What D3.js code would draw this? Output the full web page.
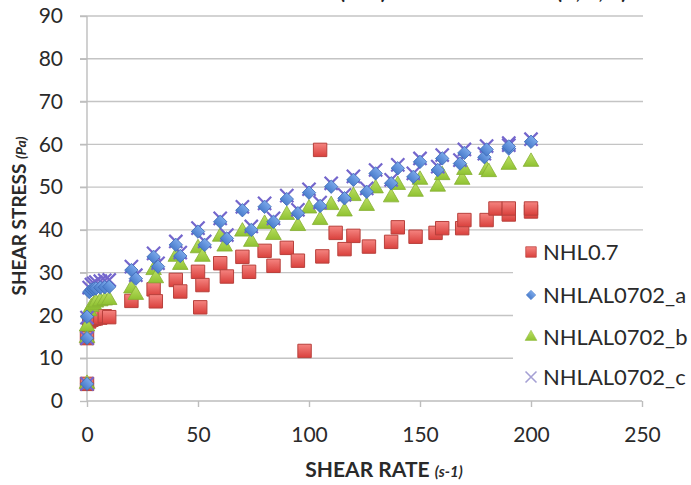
<!DOCTYPE html>
<html><head><meta charset="utf-8">
<script src="https://cdn.jsdelivr.net/npm/d3@7/dist/d3.min.js"></script>
<style>html,body{margin:0;padding:0;background:#fff;}svg{display:block;font-family:Lato,"Open Sans",sans-serif;}</style>
</head><body>
<svg id="c" width="691" height="485"></svg>
<script>
const seriesNames = ["NHL0.7", "NHLAL0702_a", "NHLAL0702_b", "NHLAL0702_c"];
const xTicks = [0, 50, 100, 150, 200, 250];
const yTicks = [0, 10, 20, 30, 40, 50, 60, 70, 80, 90];

const nhl07 = [[0,4],[0,14.7],[1,18.6],[2,19],[3,19.2],[4,19.3],[6,19.5],[8,19.8],[10,19.6],[20,23.4],[30,26.1],[31,23.3],[40,28.3],[42,25.6],[50,30.2],[52,27.1],[51,21.9],[60,32.2],[63,29.1],[70,33.7],[73,30.2],[80,35.1],[84,31.6],[90,35.8],[95,32.8],[98,11.7],[105,58.7],[106,33.8],[112,39.3],[116,35.5],[120,38.6],[127,36.1],[137,37.2],[140,40.6],[148,38.4],[157,39.3],[160,40.4],[169,40.4],[170,42.3],[180,42.3],[184,45.0],[190,43.6],[190,45.0],[200,44.3],[200,45.0]];
const nhlal_a = [[0,4],[0,14.7],[0,19.7],[1,25.5],[2,26],[3,26.2],[4,26.3],[6,26.5],[8,26.6],[10,26.7],[20,30.6],[22,28.6],[30,33.7],[32,31.4],[40,36.5],[42,33.9],[50,39.6],[53,36.5],[60,41.9],[63,38.0],[70,44.6],[74,40.0],[80,45.4],[84,41.9],[90,47.2],[95,43.9],[100,48.7],[105,45.6],[110,50.1],[116,47.4],[120,51.7],[126,48.9],[130,53.2],[137,50.9],[140,54.4],[147,52.4],[150,55.9],[158,54.0],[160,56.7],[168,55.5],[170,58.0],[179,57.0],[180,58.8],[190,59.0],[190,59.5],[200,60.6]];
const nhlal_b = [[0,4],[0,14.7],[0,17.4],[1,21],[2,22],[3,22.5],[4,23],[6,23.3],[8,23.5],[10,23.6],[20,26.3],[22,24.8],[30,30.6],[31,28.7],[40,33.7],[42,31.8],[50,35.7],[52,33.7],[60,38.4],[62,36.1],[70,39.6],[74,37.2],[80,41.4],[84,38.8],[90,43.5],[95,40.9],[100,45.0],[105,42.3],[110,45.8],[116,44.3],[120,47.9],[126,45.6],[130,49.7],[137,47.6],[140,50.5],[148,48.9],[150,51.7],[158,50.1],[160,52.8],[169,51.7],[170,54.0],[180,54.0],[181,53.5],[190,55.2],[200,55.9]];
const nhlal_c = [[0,4],[0,14.7],[0,19.5],[1,26.5],[2,27.2],[3,27.5],[4,27.8],[6,28],[8,28.2],[10,28.3],[20,31.4],[22,29.4],[30,34.5],[32,32.2],[40,37.3],[42,34.7],[50,40.4],[53,37.3],[60,42.7],[63,38.8],[70,45.4],[74,40.8],[80,46.2],[84,42.7],[90,48.0],[95,44.7],[100,49.5],[105,46.4],[110,50.9],[116,48.2],[120,52.5],[126,49.7],[130,54.0],[137,51.7],[140,55.2],[147,53.2],[150,56.7],[158,54.8],[160,57.5],[168,56.3],[170,58.8],[179,57.8],[180,59.6],[190,59.8],[190,60.3],[200,61.2]];

const svg = d3.select("#c");
const x = d3.scaleLinear().domain([0, 250]).range([87, 642]);
const y = d3.scaleLinear().domain([0, 90]).range([401, 16]);

const defs = svg.append("defs");
function grad(id, c1, c2) {
  const g = defs.append("linearGradient").attr("id", id).attr("x1", 0).attr("y1", 0).attr("x2", 0).attr("y2", 1);
  g.append("stop").attr("offset", "0%").attr("stop-color", c1);
  g.append("stop").attr("offset", "100%").attr("stop-color", c2);
}
grad("gr", "#f58480", "#d9403c");
grad("gb", "#7aa8ea", "#4a7dcc");
grad("gg", "#bde064", "#8fc232");

// title (cut off at top, as in the reference)
svg.append("text").attr("x", 358).attr("y", -1).attr("text-anchor", "middle")
  .attr("font-size", 20).attr("font-weight", "bold").attr("fill", "#222")
  .text("FLOW CURVES OF NHL0.7 (REF) AND NHLAL0702 (A, B, C)");

// gridlines
svg.append("g").selectAll("line").data(yTicks.filter(d => d > 0)).join("line")
  .attr("x1", 80).attr("x2", 643).attr("y1", d => y(d)).attr("y2", d => y(d))
  .attr("stroke", "#c4c4c4").attr("stroke-width", 1.4);

// axes
const xAxis = svg.append("g").attr("transform", `translate(0,${y(0)})`)
  .call(d3.axisBottom(x).tickValues(xTicks).tickSize(6).tickPadding(20));
const yAxis = svg.append("g").attr("transform", `translate(${x(0)},0)`)
  .call(d3.axisLeft(y).tickValues(yTicks).tickSize(7).tickPadding(17));
[xAxis, yAxis].forEach(a => {
  a.select(".domain").attr("stroke", "#bdbdbd").attr("stroke-width", 1.4);
  a.selectAll(".tick line").attr("stroke", "#bdbdbd").attr("stroke-width", 1.4);
  a.selectAll(".tick text").attr("font-size", 21).attr("fill", "#2a2a2a").attr("font-family", "Lato, sans-serif");
});
xAxis.select(".domain").attr("d", `M${x(0)},0H${x(250)}`);
yAxis.select(".domain").attr("d", `M0,${y(0)}V${y(90)}`);
yAxis.selectAll(".tick line").attr("x2", -7);

// axis titles
const xt = svg.append("text").attr("x", 384).attr("y", 477).attr("text-anchor", "middle")
  .attr("font-size", 21).attr("font-weight", "bold").attr("fill", "#2a2a2a");
xt.append("tspan").text("SHEAR RATE ");
xt.append("tspan").attr("font-size", 15).attr("font-style", "italic").text("(s-1)");
const yt = svg.append("text").attr("transform", "translate(26,216) rotate(-90)").attr("text-anchor", "middle")
  .attr("font-size", 19).attr("font-weight", "bold").attr("fill", "#2a2a2a");
yt.append("tspan").text("SHEAR STRESS ");
yt.append("tspan").attr("font-size", 14).attr("font-style", "italic").text("(Pa)");

// markers
const sq = d3.symbol().type(d3.symbolSquare).size(180)();
const dia = d3.symbol().type(d3.symbolSquare).size(90)();
const tri = d3.symbol().type(d3.symbolTriangle).size(105)();
const cross = d3.symbol().type(d3.symbolX).size(115)();

function plot(data, path, attrs, rot) {
  const g = svg.append("g");
  const s = g.selectAll("path").data(data).join("path").attr("d", path)
    .attr("transform", d => `translate(${x(d[0])},${y(d[1])})` + (rot ? " rotate(45)" : ""));
  Object.entries(attrs).forEach(([k, v]) => s.attr(k, v));
}
plot(nhl07, sq, {fill: "url(#gr)", stroke: "#b8403c", "stroke-width": 1});
plot(nhlal_b, tri, {fill: "url(#gg)", stroke: "#86b034", "stroke-width": 0.8});
plot(nhlal_c, cross, {fill: "none", stroke: "#7466cc", "stroke-width": 2.2});
plot(nhlal_a, dia, {fill: "url(#gb)", stroke: "#3e6bb8", "stroke-width": 0.8}, true);

// legend
const lg = svg.append("g");
lg.append("rect").attr("x", 513).attr("y", 233).attr("width", 178).attr("height", 164).attr("fill", "#fff");
const ly = [252, 295, 337, 377];
const lsym = [
  {d: d3.symbol().type(d3.symbolSquare).size(110)(), fill: "url(#gr)", stroke: "#c04844", sw: 0.8, rot: false},
  {d: d3.symbol().type(d3.symbolSquare).size(45)(), fill: "url(#gb)", stroke: "#5a86cc", sw: 0.6, rot: true},
  {d: d3.symbol().type(d3.symbolTriangle).size(60)(), fill: "url(#gg)", stroke: "#94bc44", sw: 0.6, rot: false},
  {d: d3.symbol().type(d3.symbolX).size(80)(), fill: "none", stroke: "#a5a0d4", sw: 1.6, rot: false}
];
seriesNames.forEach((n, i) => {
  lg.append("path").attr("d", lsym[i].d)
    .attr("transform", `translate(531,${ly[i]})` + (lsym[i].rot ? " rotate(45)" : ""))
    .attr("fill", lsym[i].fill).attr("stroke", lsym[i].stroke).attr("stroke-width", lsym[i].sw);
  lg.append("text").attr("x", 543).attr("y", ly[i] + 8).attr("font-size", 22).attr("fill", "#2a2a2a").text(n);
});
</script>
</body></html>
